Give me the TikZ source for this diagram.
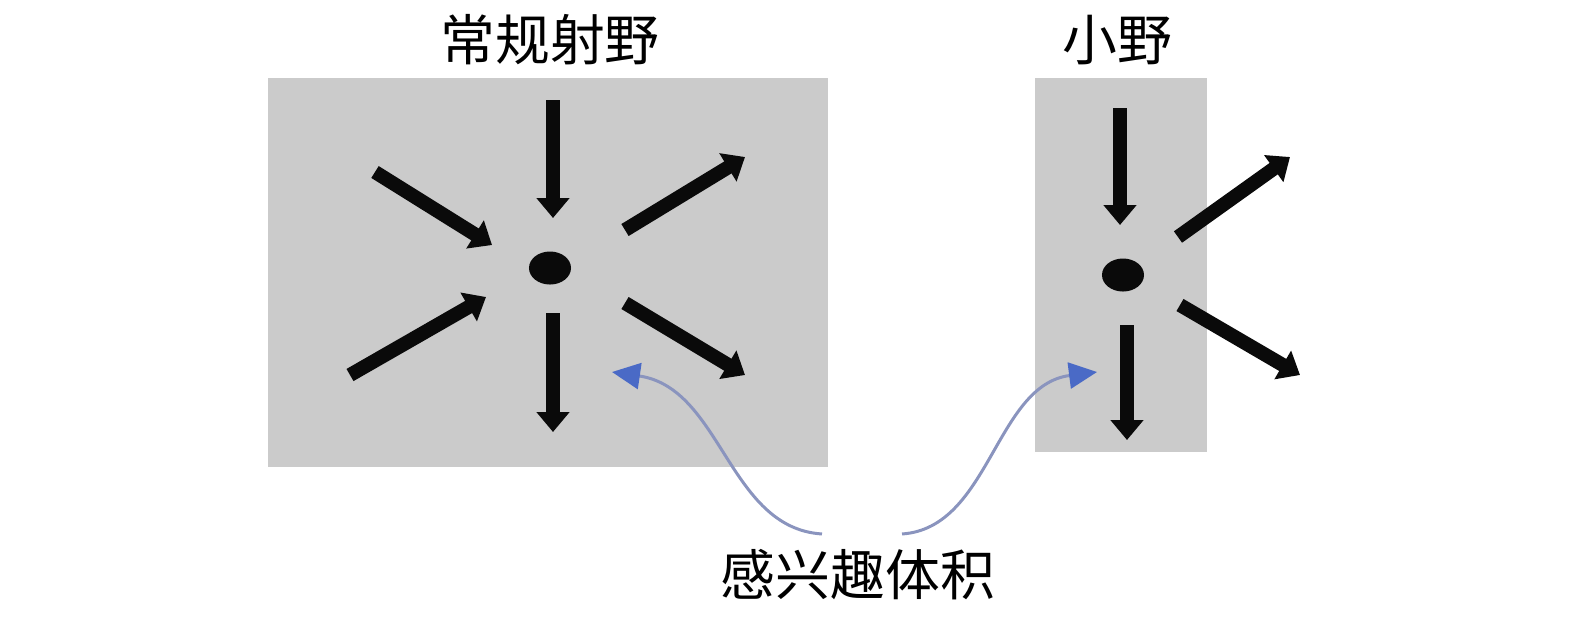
\documentclass[tikz,border=0pt]{standalone}
\usepackage{fontspec}
\newfontfamily\cjk{Noto Sans CJK SC}
\usetikzlibrary{positioning,arrows.meta,shapes.geometric}
\definecolor{field}{HTML}{CBCBCB}
\definecolor{ray}{HTML}{0A0A0A}
\definecolor{roiline}{HTML}{8A94BE}
\definecolor{roihead}{HTML}{4A6AC6}
\tikzset{
  title/.style={text=black,font=\cjk\fontsize{15.6}{18}\selectfont,inner sep=0pt},
  beam/.style={draw=none,fill=field},
  rayarrow/.style={ray,line width=.14cm,-{Triangle[width=.32cm,length=.2cm]}},
  iso/.style={ellipse,fill=ray,minimum width=.42cm,minimum height=.33cm,inner sep=0pt},
  roiarrow/.style={roiline,line width=.03cm,-{Triangle[width=.26cm,length=.28cm,color=roihead]}}
}
\begin{document}
\begin{tikzpicture}[x=.01cm,y=-.01cm]
\useasboundingbox (0,0) rectangle (1575,620);
\node[title] (conv) at (550,40){常规射野};
\node[title] (small) at (1117,40){小野};
\node[title] (roi) at (858,575){感兴趣体积};
\fill[beam] (268,78) rectangle (828,467);
\fill[beam] (1035,78) rectangle (1207,452);
\node[iso] (c1) at (550,268){};
\node[iso] (c2) at (1123,275){};
\draw[rayarrow] (553,100)--(553,218);\draw[rayarrow] (553,313)--(553,432);
\draw[rayarrow] (375,172)--(492,245);\draw[rayarrow] (350,375)--(486,297);
\draw[rayarrow] (625,230)--(745,157);\draw[rayarrow] (625,303)--(745,375);
\draw[rayarrow] (1120,108)--(1120,225);\draw[rayarrow] (1127,325)--(1127,440);
\draw[rayarrow] (1178,237)--(1290,157);\draw[rayarrow] (1180,305)--(1300,375);
\coordinate (p1) at (612,372);
\coordinate (p2) at (1097,372);
\draw[roiarrow] ([xshift=-.36cm,yshift=.15cm]roi.north) .. controls (728,528) and (722,388) .. (p1);
\draw[roiarrow] ([xshift=.44cm,yshift=.15cm]roi.north) .. controls (990,528) and (995,385) .. (p2);
\end{tikzpicture}
\end{document}
